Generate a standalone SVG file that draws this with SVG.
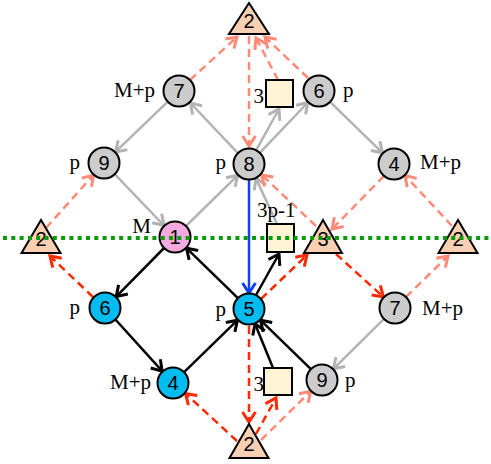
<svg xmlns="http://www.w3.org/2000/svg" width="491" height="464" viewBox="0 0 491 464">
<style>
.n{stroke:#000;stroke-width:2}
.g{fill:#cccccc}.pk{fill:#f5a9dc}.bl{fill:#00bcf0}
.tr{fill:#fad0b4;stroke:#000;stroke-width:2}
.sq{fill:#fff3d6;stroke:#000;stroke-width:2}
.d{font-family:"Liberation Sans",Arial,sans-serif;font-size:20px;text-anchor:middle;fill:#000}
.l{font-family:"Liberation Serif","Times New Roman",serif;font-size:21px;fill:#000}
.e{text-anchor:end}
.eg{stroke:#b3b3b3;stroke-width:2.5;fill:none;marker-end:url(#mg)}
.es{stroke:#ff8a78;stroke-width:2.5;fill:none;stroke-dasharray:8,5;marker-end:url(#ms)}
.er{stroke:#ff2a00;stroke-width:2.5;fill:none;stroke-dasharray:8,5;marker-end:url(#mr)}
.ek{stroke:#000;stroke-width:2.5;fill:none;marker-end:url(#mk)}
.eb{stroke:#1040ff;stroke-width:2.5;fill:none;marker-end:url(#mb)}
</style>
<defs>
<marker id="mg" viewBox="-13 -9 16 18" refX="0" refY="0" markerWidth="16" markerHeight="18" markerUnits="userSpaceOnUse" orient="auto"><path d="M-10,-6.5 L0,0 L-10,6.5" fill="none" stroke="#b3b3b3" stroke-width="3"/></marker>
<marker id="ms" viewBox="-13 -9 16 18" refX="0" refY="0" markerWidth="16" markerHeight="18" markerUnits="userSpaceOnUse" orient="auto"><path d="M-10,-6.5 L0,0 L-10,6.5" fill="none" stroke="#ff8a78" stroke-width="3"/></marker>
<marker id="mr" viewBox="-13 -9 16 18" refX="0" refY="0" markerWidth="16" markerHeight="18" markerUnits="userSpaceOnUse" orient="auto"><path d="M-10,-6.5 L0,0 L-10,6.5" fill="none" stroke="#ff2a00" stroke-width="3"/></marker>
<marker id="mk" viewBox="-13 -9 16 18" refX="0" refY="0" markerWidth="16" markerHeight="18" markerUnits="userSpaceOnUse" orient="auto"><path d="M-10,-6.5 L0,0 L-10,6.5" fill="none" stroke="#000" stroke-width="3"/></marker>
<marker id="mb" viewBox="-13 -9 16 18" refX="0" refY="0" markerWidth="16" markerHeight="18" markerUnits="userSpaceOnUse" orient="auto"><path d="M-10,-6.5 L0,0 L-10,6.5" fill="none" stroke="#1040ff" stroke-width="3"/></marker>
</defs>
<g id="edges">
<line class="eg" x1="237.4" y1="152.7" x2="190.5" y2="103"/>
<line class="eg" x1="167.8" y1="101.7" x2="115.5" y2="151.9"/>
<line class="eg" x1="114.7" y1="174.2" x2="163.9" y2="225.5"/>
<line class="eg" x1="186" y1="226" x2="237.7" y2="175.3"/>
<line class="eg" x1="256" y1="150.4" x2="279" y2="109"/>
<line class="eg" x1="259.8" y1="152.9" x2="307.8" y2="102.5"/>
<line class="eg" x1="330.1" y1="101.8" x2="382.5" y2="152.8"/>
<line class="eg" x1="277" y1="224" x2="256" y2="178.4"/>
<line class="eg" x1="384" y1="318.9" x2="333.4" y2="368.8"/>
<line class="es" x1="190" y1="80" x2="237" y2="37"/>
<line class="es" x1="249" y1="36" x2="249" y2="146"/>
<line class="es" x1="278" y1="80" x2="256" y2="38"/>
<line class="es" x1="308" y1="78" x2="265" y2="37"/>
<line class="es" x1="46" y1="228" x2="93.4" y2="175"/>
<line class="es" x1="316" y1="226" x2="261.7" y2="174.9"/>
<line class="es" x1="384" y1="176" x2="332" y2="229"/>
<line class="es" x1="452" y1="226" x2="405.1" y2="175.5"/>
<line class="es" x1="406" y1="297" x2="448" y2="256"/>
<line class="es" x1="261" y1="440" x2="310.7" y2="391.3"/>
<line class="er" x1="93" y1="297" x2="50" y2="256"/>
<line class="er" x1="261" y1="299" x2="307" y2="255"/>
<line class="er" x1="336" y1="254" x2="383.4" y2="297"/>
<line class="er" x1="249" y1="326" x2="249" y2="422"/>
<line class="er" x1="237" y1="441" x2="185.5" y2="393.5"/>
<line class="er" x1="256" y1="434" x2="276" y2="398"/>
<line class="ek" x1="164.1" y1="248" x2="116.2" y2="296.6"/>
<line class="ek" x1="115.4" y1="319.5" x2="162.2" y2="371.1"/>
<line class="ek" x1="184.1" y1="372.2" x2="237.5" y2="320.2"/>
<line class="ek" x1="237.9" y1="298.2" x2="186.5" y2="248.2"/>
<line class="ek" x1="256" y1="295" x2="279" y2="254"/>
<line class="ek" x1="273" y1="368" x2="255" y2="323.8"/>
<line class="ek" x1="310.9" y1="369.2" x2="260.5" y2="320.2"/>
<line class="eb" x1="249" y1="180" x2="249" y2="293"/>
</g>
<g id="n_t2top"><polygon class="tr" points="249,3 229,34 269,34"/><text class="d" x="249" y="28">2</text></g>
<g id="n_7a"><circle class="n g" cx="179" cy="91" r="15.5"/><text class="d" x="179" y="98">7</text><text class="l e" x="155" y="97">M+p</text></g>
<g id="n_s3a"><rect class="sq" x="266" y="80" width="27" height="27"/><text class="l e" x="264" y="103">3</text></g>
<g id="n_6a"><circle class="n g" cx="319" cy="91" r="15.5"/><text class="d" x="319" y="98">6</text><text class="l" x="343" y="97">p</text></g>
<g id="n_9a"><circle class="n g" cx="104" cy="163" r="15.5"/><text class="d" x="104" y="170">9</text><text class="l e" x="80" y="169">p</text></g>
<g id="n_8"><circle class="n g" cx="249" cy="164" r="15.5"/><text class="d" x="249" y="171">8</text><text class="l e" x="226" y="169">p</text></g>
<g id="n_4a"><circle class="n g" cx="394" cy="164" r="15.5"/><text class="d" x="394" y="171">4</text><text class="l" x="420" y="169">M+p</text></g>
<g id="n_1"><circle class="n pk" cx="175" cy="237" r="15.5"/><text class="d" x="175" y="244">1</text><text class="l e" x="151" y="233">M</text></g>
<g id="n_t2l"><polygon class="tr" points="41,220 21.5,253 60.5,253"/><text class="d" x="41" y="246">2</text></g>
<g id="n_s3p"><rect class="sq" x="267" y="224" width="27" height="28"/><text class="l" x="257" y="217">3p-1</text></g>
<g id="n_t3"><polygon class="tr" points="323,220 304,253 342,253"/><text class="d" x="323" y="246">3</text></g>
<g id="n_t2r"><polygon class="tr" points="458,220 438.5,253 477.5,253"/><text class="d" x="458" y="246">2</text></g>
<g id="n_6b"><circle class="n bl" cx="105" cy="308" r="15.5"/><text class="d" x="105" y="315">6</text><text class="l e" x="80" y="314">p</text></g>
<g id="n_5"><circle class="n bl" cx="249" cy="309" r="15.5"/><text class="d" x="249" y="316">5</text><text class="l e" x="226" y="316">p</text></g>
<g id="n_7b"><circle class="n g" cx="395" cy="308" r="15.5"/><text class="d" x="395" y="315">7</text><text class="l" x="422" y="315">M+p</text></g>
<g id="n_4b"><circle class="n bl" cx="173" cy="383" r="15.5"/><text class="d" x="173" y="390">4</text><text class="l e" x="151" y="389">M+p</text></g>
<g id="n_9b"><circle class="n g" cx="322" cy="380" r="15.5"/><text class="d" x="322" y="387">9</text><text class="l" x="345" y="387">p</text></g>
<g id="n_s3b"><rect class="sq" x="264" y="368" width="28" height="27"/><text class="l e" x="264" y="391">3</text></g>
<g id="n_t2b"><polygon class="tr" points="249,424 229.5,458 268.5,458"/><text class="d" x="249" y="451">2</text></g>
<line id="divider" x1="3" y1="238" x2="491" y2="238" stroke="#0a9a0a" stroke-width="4" stroke-dasharray="4,4.3"/>
</svg>
